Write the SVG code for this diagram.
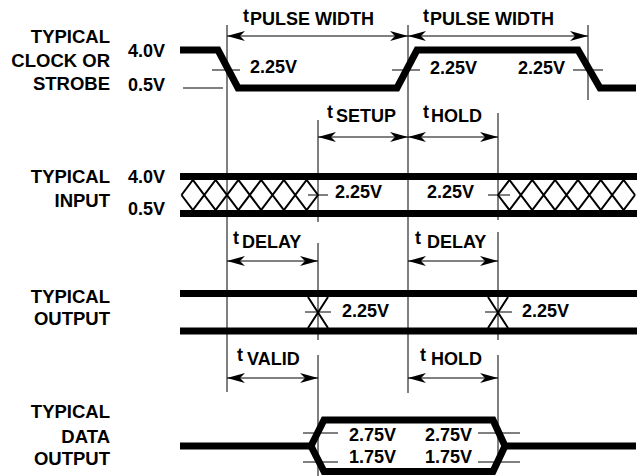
<svg xmlns="http://www.w3.org/2000/svg" width="643" height="476" viewBox="0 0 643 476">
<defs>
<style>
text{font-family:"Liberation Sans",Arial,sans-serif;font-weight:bold;font-size:18px;fill:#000}
.lbl{text-anchor:end;font-size:18.5px}
.wave{fill:none;stroke:#000;stroke-width:7;stroke-linejoin:miter}
.hatch{fill:none;stroke:#000;stroke-width:2}
.thin{fill:none;stroke:#000;stroke-width:1}
.dim{fill:none;stroke:#000;stroke-width:1;marker-start:url(#ah);marker-end:url(#ah)}
</style>
<marker id="ah" viewBox="0 -5 18 10" refX="18" refY="0" markerWidth="18" markerHeight="10" markerUnits="userSpaceOnUse" orient="auto-start-reverse">
<path d="M18,0 L0,-5 L5,0 L0,5 Z" fill="#000"/>
</marker>
</defs>

<g id="labels">
<text class="lbl" x="110" y="43">TYPICAL</text>
<text class="lbl" x="110" y="67">CLOCK OR</text>
<text class="lbl" x="110" y="90">STROBE</text>
<text class="lbl" x="110" y="183">TYPICAL</text>
<text class="lbl" x="110" y="207">INPUT</text>
<text class="lbl" x="110" y="303">TYPICAL</text>
<text class="lbl" x="110" y="325">OUTPUT</text>
<text class="lbl" x="110" y="418">TYPICAL</text>
<text class="lbl" x="110" y="443">DATA</text>
<text class="lbl" x="110" y="465">OUTPUT</text>
<text x="128" y="57">4.0V</text>
<text x="128" y="91">0.5V</text>
<text x="128" y="183">4.0V</text>
<text x="128" y="215">0.5V</text>
</g>

<g id="clock">
<path class="wave" d="M180,50 H218 L238,88 H397 L417,50 H578 L600,88 H636"/>
<path class="thin" d="M183,88 H223 M212,70 H240 M392,70 H420 M573,70 H603"/>
<text x="250" y="73">2.25V</text>
<text x="430" y="74">2.25V</text>
<text x="518" y="74">2.25V</text>
</g>

<g id="input">
<path class="wave" d="M180,176.5 H637 M180,213.5 H637"/>
<path class="hatch" d="M181.5,195 L192.875,180 L215.625,210 L238.375,180 L261.125,210 L283.875,180 L306.625,210 L318,195 M181.5,195 L192.875,210 L215.625,180 L238.375,210 L261.125,180 L283.875,210 L306.625,180 L318,195"/>
<path class="hatch" d="M498,195 L509.42,180 L532.25,210 L555.08,180 L577.92,210 L600.75,180 L623.58,210 L635,195 M498,195 L509.42,210 L532.25,180 L555.08,210 L577.92,180 L600.75,210 L623.58,180 L635,195"/>
<path class="thin" d="M308,195 H328 M488,195 H510"/>
<text x="335" y="198">2.25V</text>
<text x="427" y="198">2.25V</text>
</g>

<g id="output">
<path class="wave" d="M180,293.5 H637 M180,331 H637"/>
<path class="hatch" d="M308,297 L328,328 M328,297 L308,328 M488,297 L508,328 M508,297 L488,328"/>
<path class="thin" d="M305,312 H331 M485,312 H512"/>
<text x="342" y="317">2.25V</text>
<text x="522" y="317">2.25V</text>
</g>

<g id="data-output">
<path class="wave" d="M180,446 H311 M505,446 H636"/>
<path class="wave" d="M311,446 L324,420 H493 L505,446 L493,471.5 H324 Z"/>
<path class="thin" d="M303,433 H338 M478,433 H520 M303,462 H338 M478,462 H520"/>
<text x="349" y="441">2.75V</text>
<text x="425" y="441">2.75V</text>
<text x="349" y="463">1.75V</text>
<text x="425" y="463">1.75V</text>
</g>

<g id="connectors">
<path class="thin" d="M227,25 V392 M408,25 V393 M588,25 V100 M318,120 V222 M318,243 V340 M318,355 V476 M498,113 V220 M498,232 V340 M498,355 V463"/>
<path class="dim" d="M227,36 H408"/>
<path class="dim" d="M408,36 H588"/>
<path class="dim" d="M318,137 H408"/>
<path class="dim" d="M408,137 H498"/>
<path class="dim" d="M227,261 H318"/>
<path class="dim" d="M408,261 H498"/>
<path class="dim" d="M227,378 H318"/>
<path class="dim" d="M408,378 H498"/>
</g>

<g id="timing-labels">
<text x="243" y="22">t</text><text x="250" y="25">PULSE WIDTH</text>
<text x="423" y="22">t</text><text x="430" y="25">PULSE WIDTH</text>
<text x="327" y="118">t</text><text x="336" y="122">SETUP</text>
<text x="423" y="118">t</text><text x="431" y="122">HOLD</text>
<text x="233" y="244">t</text><text x="242" y="248">DELAY</text>
<text x="415" y="244">t</text><text x="427" y="248">DELAY</text>
<text x="237" y="361">t</text><text x="247" y="365">VALID</text>
<text x="420" y="361">t</text><text x="431" y="365">HOLD</text>
</g>
</svg>
